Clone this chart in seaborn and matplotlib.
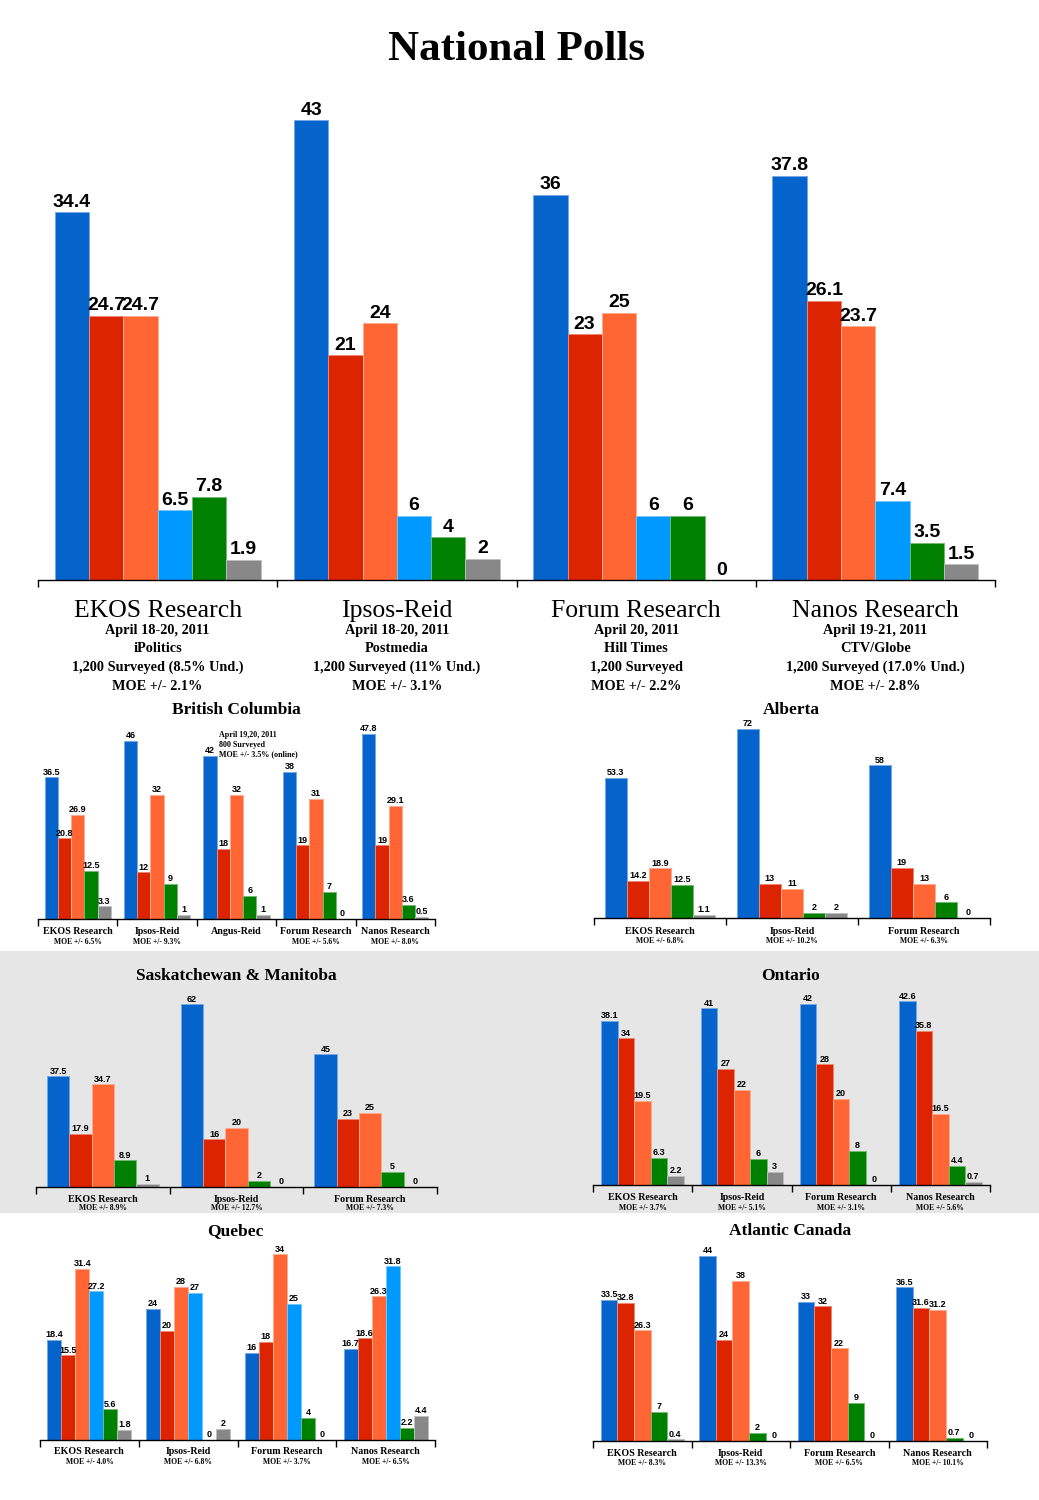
import numpy as np
import pandas as pd
import matplotlib
matplotlib.use("Agg")
import matplotlib.pyplot as plt
from matplotlib.patches import Rectangle
from matplotlib.colors import to_rgb
import seaborn as sns

# ---------------- data ----------------
parties6 = ["Conservative", "Liberal", "NDP", "Bloc", "Green", "Other"]
parties5 = ["Conservative", "Liberal", "NDP", "Green", "Other"]
party_colors = {"Conservative": "#0563CC", "Liberal": "#DC2400", "NDP": "#FF6633",
                "Bloc": "#0099FF", "Green": "#008000", "Other": "#888888"}

nat_pollsters = ["EKOS Research", "Ipsos-Reid", "Forum Research", "Nanos Research"]
nat_values = [[34.4, 24.7, 24.7, 6.5, 7.8, 1.9],
              [43, 21, 24, 6, 4, 2],
              [36, 23, 25, 6, 6, 0],
              [37.8, 26.1, 23.7, 7.4, 3.5, 1.5]]
nat_dates = ["April 18-20, 2011", "April 18-20, 2011", "April 20, 2011", "April 19-21, 2011"]
nat_sponsors = ["iPolitics", "Postmedia", "Hill Times", "CTV/Globe"]
nat_samples = ["1,200 Surveyed (8.5% Und.)", "1,200 Surveyed (11% Und.)",
               "1,200 Surveyed", "1,200 Surveyed (17.0% Und.)"]
nat_moe = ["MOE +/- 2.1%", "MOE +/- 3.1%", "MOE +/- 2.2%", "MOE +/- 2.8%"]

bc_pollsters = ["EKOS Research", "Ipsos-Reid", "Angus-Reid", "Forum Research", "Nanos Research"]
bc_values = [[36.5, 20.8, 26.9, 12.5, 3.3], [46, 12, 32, 9, 1], [42, 18, 32, 6, 1],
             [38, 19, 31, 7, 0], [47.8, 19, 29.1, 3.6, 0.5]]
bc_moe = ["MOE +/- 6.5%", "MOE +/- 9.3%", "", "MOE +/- 5.6%", "MOE +/- 8.0%"]
bc_note = "April 19,20, 2011\n800 Surveyed\nMOE +/- 3.5% (online)"

ab_pollsters = ["EKOS Research", "Ipsos-Reid", "Forum Research"]
ab_values = [[53.3, 14.2, 18.9, 12.5, 1.1], [72, 13, 11, 2, 2], [58, 19, 13, 6, 0]]
ab_moe = ["MOE +/- 6.8%", "MOE +/- 10.2%", "MOE +/- 6.3%"]

sm_pollsters = ["EKOS Research", "Ipsos-Reid", "Forum Research"]
sm_values = [[37.5, 17.9, 34.7, 8.9, 1], [62, 16, 20, 2, 0], [45, 23, 25, 5, 0]]
sm_moe = ["MOE +/- 8.9%", "MOE +/- 12.7%", "MOE +/- 7.3%"]

on_pollsters = ["EKOS Research", "Ipsos-Reid", "Forum Research", "Nanos Research"]
on_values = [[38.1, 34, 19.5, 6.3, 2.2], [41, 27, 22, 6, 3], [42, 28, 20, 8, 0],
             [42.6, 35.8, 16.5, 4.4, 0.7]]
on_moe = ["MOE +/- 3.7%", "MOE +/- 5.1%", "MOE +/- 3.1%", "MOE +/- 5.6%"]

qc_pollsters = ["EKOS Research", "Ipsos-Reid", "Forum Research", "Nanos Research"]
qc_values = [[18.4, 15.5, 31.4, 27.2, 5.6, 1.8], [24, 20, 28, 27, 0, 2],
             [16, 18, 34, 25, 4, 0], [16.7, 18.6, 26.3, 31.8, 2.2, 4.4]]
qc_moe = ["MOE +/- 4.0%", "MOE +/- 6.8%", "MOE +/- 3.7%", "MOE +/- 6.5%"]

at_pollsters = ["EKOS Research", "Ipsos-Reid", "Forum Research", "Nanos Research"]
at_values = [[33.5, 32.8, 26.3, 7, 0.4], [44, 24, 38, 2, 0], [33, 32, 22, 9, 0],
             [36.5, 31.6, 31.2, 0.7, 0]]
at_moe = ["MOE +/- 8.3%", "MOE +/- 13.3%", "MOE +/- 6.5%", "MOE +/- 10.1%"]

# ---------------- style ----------------
sns.set_style("white")
plt.rcParams["text.color"] = "black"
W, H = 1039, 1500
fig = plt.figure(figsize=(W / 100, H / 100), dpi=100)
fig.patch.set_facecolor("white")
SERIF = ["Liberation Serif", "DejaVu Serif"]
SANS = ["Liberation Sans Narrow", "Liberation Sans", "DejaVu Sans"]


def fx(x):
    return x / W


def fy(y):
    return 1 - y / H


def lighten(c, amt=0.45):
    r, g, b = to_rgb(c)
    return (r + (1 - r) * amt, g + (1 - g) * amt, b + (1 - b) * amt)


def panel(left, right, baseline, top, scale, pollsters, parties, values, width,
          label_size, label_pad):
    ax = fig.add_axes([fx(left), fy(baseline), (right - left) / W, (baseline - top) / H])
    ax.set_facecolor("none")
    df = pd.DataFrame([(p, party, v) for p, row in zip(pollsters, values)
                       for party, v in zip(parties, row)],
                      columns=["pollster", "party", "value"])
    sns.barplot(data=df, x="pollster", y="value", hue="party", order=pollsters,
                hue_order=parties, palette=party_colors, width=width, saturation=1,
                errorbar=None, legend=False, ax=ax)
    for patch in ax.patches:
        patch.set_edgecolor(lighten(patch.get_facecolor()))
        patch.set_linewidth(0.7)
    for cont in ax.containers:
        ax.bar_label(cont, fmt=lambda v: f"{v:g}", padding=label_pad,
                     fontsize=label_size, fontweight="bold", family=SANS, color="black")
    n = len(pollsters)
    ax.set_xlim(-0.5, n - 0.5)
    ax.set_ylim(0, (baseline - top) / scale)
    ax.set_xticks(np.arange(n + 1) - 0.5)
    ax.set_xticklabels([])
    ax.set_yticks([])
    ax.set_xlabel("")
    ax.set_ylabel("")
    for s in ["left", "right", "top"]:
        ax.spines[s].set_visible(False)
    ax.spines["bottom"].set_color("black")
    ax.spines["bottom"].set_linewidth(1.0)
    ax.tick_params(axis="x", bottom=True, length=5, width=1, color="black", direction="out")
    return ax


def cat_labels(ax, pollsters, moes, off1, off2, s1, s2):
    for i, (p, m) in enumerate(zip(pollsters, moes)):
        ax.annotate(p, xy=(i, 0), xycoords=("data", "axes fraction"), xytext=(0, -off1),
                    textcoords="offset pixels", ha="center", va="center",
                    fontsize=s1, fontweight="bold", family=SERIF, color="black")
        if m:
            ax.annotate(m, xy=(i, 0), xycoords=("data", "axes fraction"), xytext=(0, -off2),
                        textcoords="offset pixels", ha="center", va="center",
                        fontsize=s2, fontweight="bold", family=SERIF, color="black")


# grey band behind Saskatchewan/Manitoba and Ontario
fig.add_artist(Rectangle((0, fy(1213)), 1, (1213 - 951) / H, transform=fig.transFigure,
                         facecolor="#E6E6E6", edgecolor="none", zorder=-5))

# title
fig.text(fx(516), fy(50), "National Polls", ha="center", va="center",
         fontsize=31, fontweight="bold", family=SERIF, color="black")

# national chart
ax = panel(38, 995, 580, 95, 10.70, nat_pollsters, parties6, nat_values, 0.86, 14, 1)
for i in range(4):
    ax.annotate(nat_pollsters[i], xy=(i, 0), xycoords=("data", "axes fraction"),
                xytext=(0, -31), textcoords="offset pixels", ha="center", va="center",
                fontsize=18.5, family=SERIF, color="black")
    for txt, off in zip([nat_dates[i], nat_sponsors[i], nat_samples[i], nat_moe[i]],
                        [50, 68, 87, 106]):
        ax.annotate(txt, xy=(i, 0), xycoords=("data", "axes fraction"),
                    xytext=(0, -off), textcoords="offset pixels", ha="center", va="center",
                    fontsize=10.3, fontweight="bold", family=SERIF, color="black")

reg_kw = dict(label_size=6.5, label_pad=0.5)
TS = 12.5

# British Columbia
ax = panel(38, 435, 919, 725, 3.88, bc_pollsters, parties5, bc_values, 0.835, **reg_kw)
cat_labels(ax, bc_pollsters, bc_moe, 12.5, 23, 7.2, 5.5)
fig.text(fx(236), fy(710), "British Columbia", ha="center", va="center",
         fontsize=TS, fontweight="bold", family=SERIF)
fig.text(fx(219), fy(731), bc_note, ha="left", va="top", fontsize=5.8,
         fontweight="bold", family=SERIF, linespacing=1.3)

# Alberta
ax = panel(594, 990, 918, 725, 2.63, ab_pollsters, parties5, ab_values, 0.835, **reg_kw)
cat_labels(ax, ab_pollsters, ab_moe, 13, 23, 7.2, 5.5)
fig.text(fx(791), fy(710), "Alberta", ha="center", va="center",
         fontsize=TS, fontweight="bold", family=SERIF)

# Saskatchewan & Manitoba
ax = panel(36, 437, 1186.5, 995, 2.94, sm_pollsters, parties5, sm_values, 0.835, **reg_kw)
cat_labels(ax, sm_pollsters, sm_moe, 12.5, 21, 7.2, 5.5)
fig.text(fx(236), fy(976), "Saskatchewan & Manitoba", ha="center", va="center",
         fontsize=TS, fontweight="bold", family=SERIF)

# Ontario
ax = panel(593, 990, 1185, 995, 4.31, on_pollsters, parties5, on_values, 0.83, **reg_kw)
cat_labels(ax, on_pollsters, on_moe, 12.5, 22.5, 7.2, 5.5)
fig.text(fx(790), fy(976), "Ontario", ha="center", va="center",
         fontsize=TS, fontweight="bold", family=SERIF)

# Quebec
ax = panel(40, 435, 1440, 1250, 5.46, qc_pollsters, parties6, qc_values, 0.85, **reg_kw)
cat_labels(ax, qc_pollsters, qc_moe, 12, 22, 7.2, 5.5)
fig.text(fx(235), fy(1231), "Quebec", ha="center", va="center",
         fontsize=TS, fontweight="bold", family=SERIF)

# Atlantic Canada
ax = panel(593, 987, 1441, 1250, 4.21, at_pollsters, parties5, at_values, 0.84, **reg_kw)
cat_labels(ax, at_pollsters, at_moe, 12, 22, 7.2, 5.5)
fig.text(fx(790), fy(1231), "Atlantic Canada", ha="center", va="center",
         fontsize=TS, fontweight="bold", family=SERIF)

fig.savefig("out.png", dpi=100, facecolor="white")
